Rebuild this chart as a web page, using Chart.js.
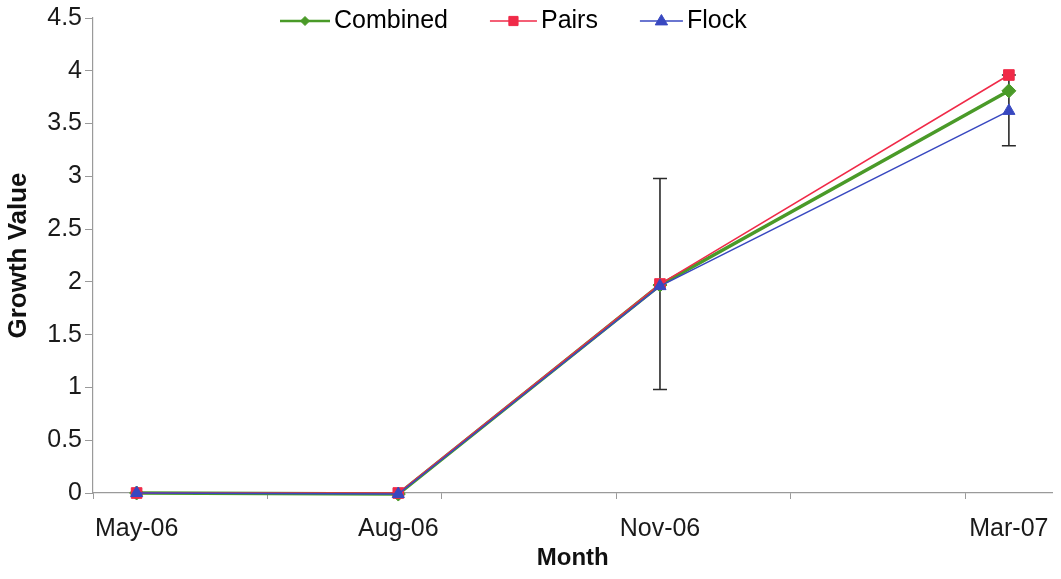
<!DOCTYPE html>
<html>
<head>
<meta charset="utf-8">
<script src="https://cdn.jsdelivr.net/npm/chart.js"></script>
<style>
  html, body { margin: 0; padding: 0; background: #ffffff; }
  #wrap { width: 1061px; height: 579px; position: relative; }
</style>
</head>
<body>
<div id="wrap"><canvas id="c"></canvas></div>
<script>
// ---- data ----
const categories   = ['May-06', 'Aug-06', 'Nov-06', 'Mar-07'];
const monthOffsets = [0, 3, 6, 10];           // months after May-06 (date axis)
const combined     = [0.00, -0.01, 1.97, 3.81];
const pairs        = [0.00,  0.00, 1.98, 3.96];
const flock        = [0.00, -0.01, 1.96, 3.62];
const errLow       = [null, null, 0.98, 3.29];
const errHigh      = [null, null, 2.98, 3.96];
const minorMarks   = [-0.5, 1.5, 3.5, 5.5, 7.5, 9.5];
const yTickLabels  = ['0', '0.5', '1', '1.5', '2', '2.5', '3', '3.5', '4', '4.5'];
const seriesNames  = ['Combined', 'Pairs', 'Flock'];

const FONT = "'Liberation Sans', Arial, sans-serif";
const GREEN = '#4a9a28', RED = '#f02a48', BLUE = '#3848c0', AXIS = '#9a9a9a';

const toPoints = arr => arr.map((v, i) => ({ x: monthOffsets[i], y: v }));

function drawMarker(ctx, style, x, y, r, color) {
  ctx.save();
  ctx.fillStyle = color; ctx.strokeStyle = color; ctx.lineWidth = 1;
  ctx.beginPath();
  if (style === 'rectRot') {
    ctx.moveTo(x, y - r); ctx.lineTo(x + r, y); ctx.lineTo(x, y + r); ctx.lineTo(x - r, y);
  } else if (style === 'rect') {
    const s = r * Math.SQRT1_2;
    ctx.rect(x - s, y - s, 2 * s, 2 * s);
  } else if (style === 'triangle') {
    ctx.moveTo(x, y - r); ctx.lineTo(x + r * 0.95, y + r * 0.6); ctx.lineTo(x - r * 0.95, y + r * 0.6);
  }
  ctx.closePath(); ctx.fill(); ctx.stroke();
  ctx.restore();
}

// error bars drawn under the series
const errorBars = {
  id: 'errorBars',
  beforeDatasetsDraw(chart) {
    const { ctx, scales: { x, y } } = chart;
    ctx.save();
    ctx.strokeStyle = '#2a2a2a';
    ctx.lineWidth = 1.6;
    for (let i = 0; i < monthOffsets.length; i++) {
      if (errLow[i] == null) continue;
      const px = x.getPixelForValue(monthOffsets[i]);
      const lo = y.getPixelForValue(errLow[i]);
      const hi = y.getPixelForValue(errHigh[i]);
      ctx.beginPath();
      ctx.moveTo(px, lo); ctx.lineTo(px, hi);
      ctx.moveTo(px - 7, lo); ctx.lineTo(px + 7, lo);
      ctx.moveTo(px - 7, hi); ctx.lineTo(px + 7, hi);
      ctx.stroke();
    }
    ctx.restore();
  }
};

// legend: line with marker, then label
const lineLegend = {
  id: 'lineLegend',
  afterDraw(chart) {
    const { ctx } = chart;
    const ds = chart.data.datasets;
    ctx.save();
    ctx.font = '25px ' + FONT;
    ctx.textBaseline = 'middle';
    ctx.fillStyle = '#000';
    let xPos = 280;
    const yPos = 21;
    const lineLens = [50, 47, 43];
    ds.forEach((d, i) => {
      const len = lineLens[i];
      ctx.strokeStyle = d.borderColor;
      ctx.lineWidth = i === 0 ? 2.5 : 1.5;
      ctx.beginPath(); ctx.moveTo(xPos, yPos); ctx.lineTo(xPos + len, yPos); ctx.stroke();
      drawMarker(ctx, d.pointStyle, xPos + len / 2, yPos, i === 0 ? 4.5 : 6.5, d.borderColor);
      ctx.fillStyle = '#000';
      ctx.fillText(d.label, xPos + len + 4, yPos);
      xPos += len + 4 + ctx.measureText(d.label).width + 42;
    });
    ctx.restore();
  }
};

new Chart(document.getElementById('c'), {
  type: 'line',
  data: {
    datasets: [
      { label: seriesNames[0], data: toPoints(combined), borderColor: GREEN, backgroundColor: GREEN,
        borderWidth: 3.5, pointStyle: 'rectRot', pointRadius: 7, pointBorderWidth: 1, order: 3, clip: false },
      { label: seriesNames[1], data: toPoints(pairs), borderColor: RED, backgroundColor: RED,
        borderWidth: 1.5, pointStyle: 'rect', pointRadius: 7.5, pointBorderWidth: 1, order: 2, clip: false },
      { label: seriesNames[2], data: toPoints(flock), borderColor: BLUE, backgroundColor: BLUE,
        borderWidth: 1.5, pointStyle: 'triangle', pointRadius: 7, pointBorderWidth: 1, order: 1, clip: false }
    ]
  },
  options: {
    responsive: true,
    maintainAspectRatio: false,
    animation: false,
    layout: { padding: { top: 18, right: 8, left: 0, bottom: 0 } },
    plugins: {
      legend: { display: false },
      tooltip: { enabled: false }
    },
    scales: {
      x: {
        type: 'linear',
        min: -0.5, max: 10.5,
        afterBuildTicks(scale) {
          const vals = monthOffsets.concat(minorMarks).sort((a, b) => a - b);
          scale.ticks = vals.map(v => ({ value: v }));
        },
        afterFit(scale) { scale.height = 86; scale.paddingRight = 0; scale.paddingLeft = 0; },
        ticks: {
          autoSkip: false, maxRotation: 0, padding: 15,
          color: '#1a1a1a', font: { family: FONT, size: 25 },
          callback(value) {
            const i = monthOffsets.indexOf(value);
            return i >= 0 ? categories[i] : '';
          }
        },
        grid: {
          drawOnChartArea: false, drawTicks: true, tickLength: 6,
          tickColor: ctx => (ctx.tick && monthOffsets.includes(ctx.tick.value)) ? 'rgba(0,0,0,0)' : AXIS
        },
        border: { display: true, color: AXIS, width: 1.2 },
        title: { display: true, text: 'Month', color: '#111',
          font: { family: FONT, size: 24, weight: 'bold' }, padding: { top: 0, bottom: 6 } }
      },
      y: {
        min: 0, max: 4.5,
        afterFit(scale) { scale.width = 93; },
        ticks: { stepSize: 0.5, padding: 3, color: '#1a1a1a', font: { family: FONT, size: 25 },
          callback: (value, index) => yTickLabels[index] },
        grid: { drawOnChartArea: false, drawTicks: true, tickLength: 8, tickColor: AXIS },
        border: { display: true, color: AXIS, width: 1.2 },
        title: { display: true, text: 'Growth Value', color: '#111',
          font: { family: FONT, size: 26, weight: 'bold' }, padding: { top: 3, bottom: 0 } }
      }
    }
  },
  plugins: [errorBars, lineLegend]
});
</script>
</body>
</html>
